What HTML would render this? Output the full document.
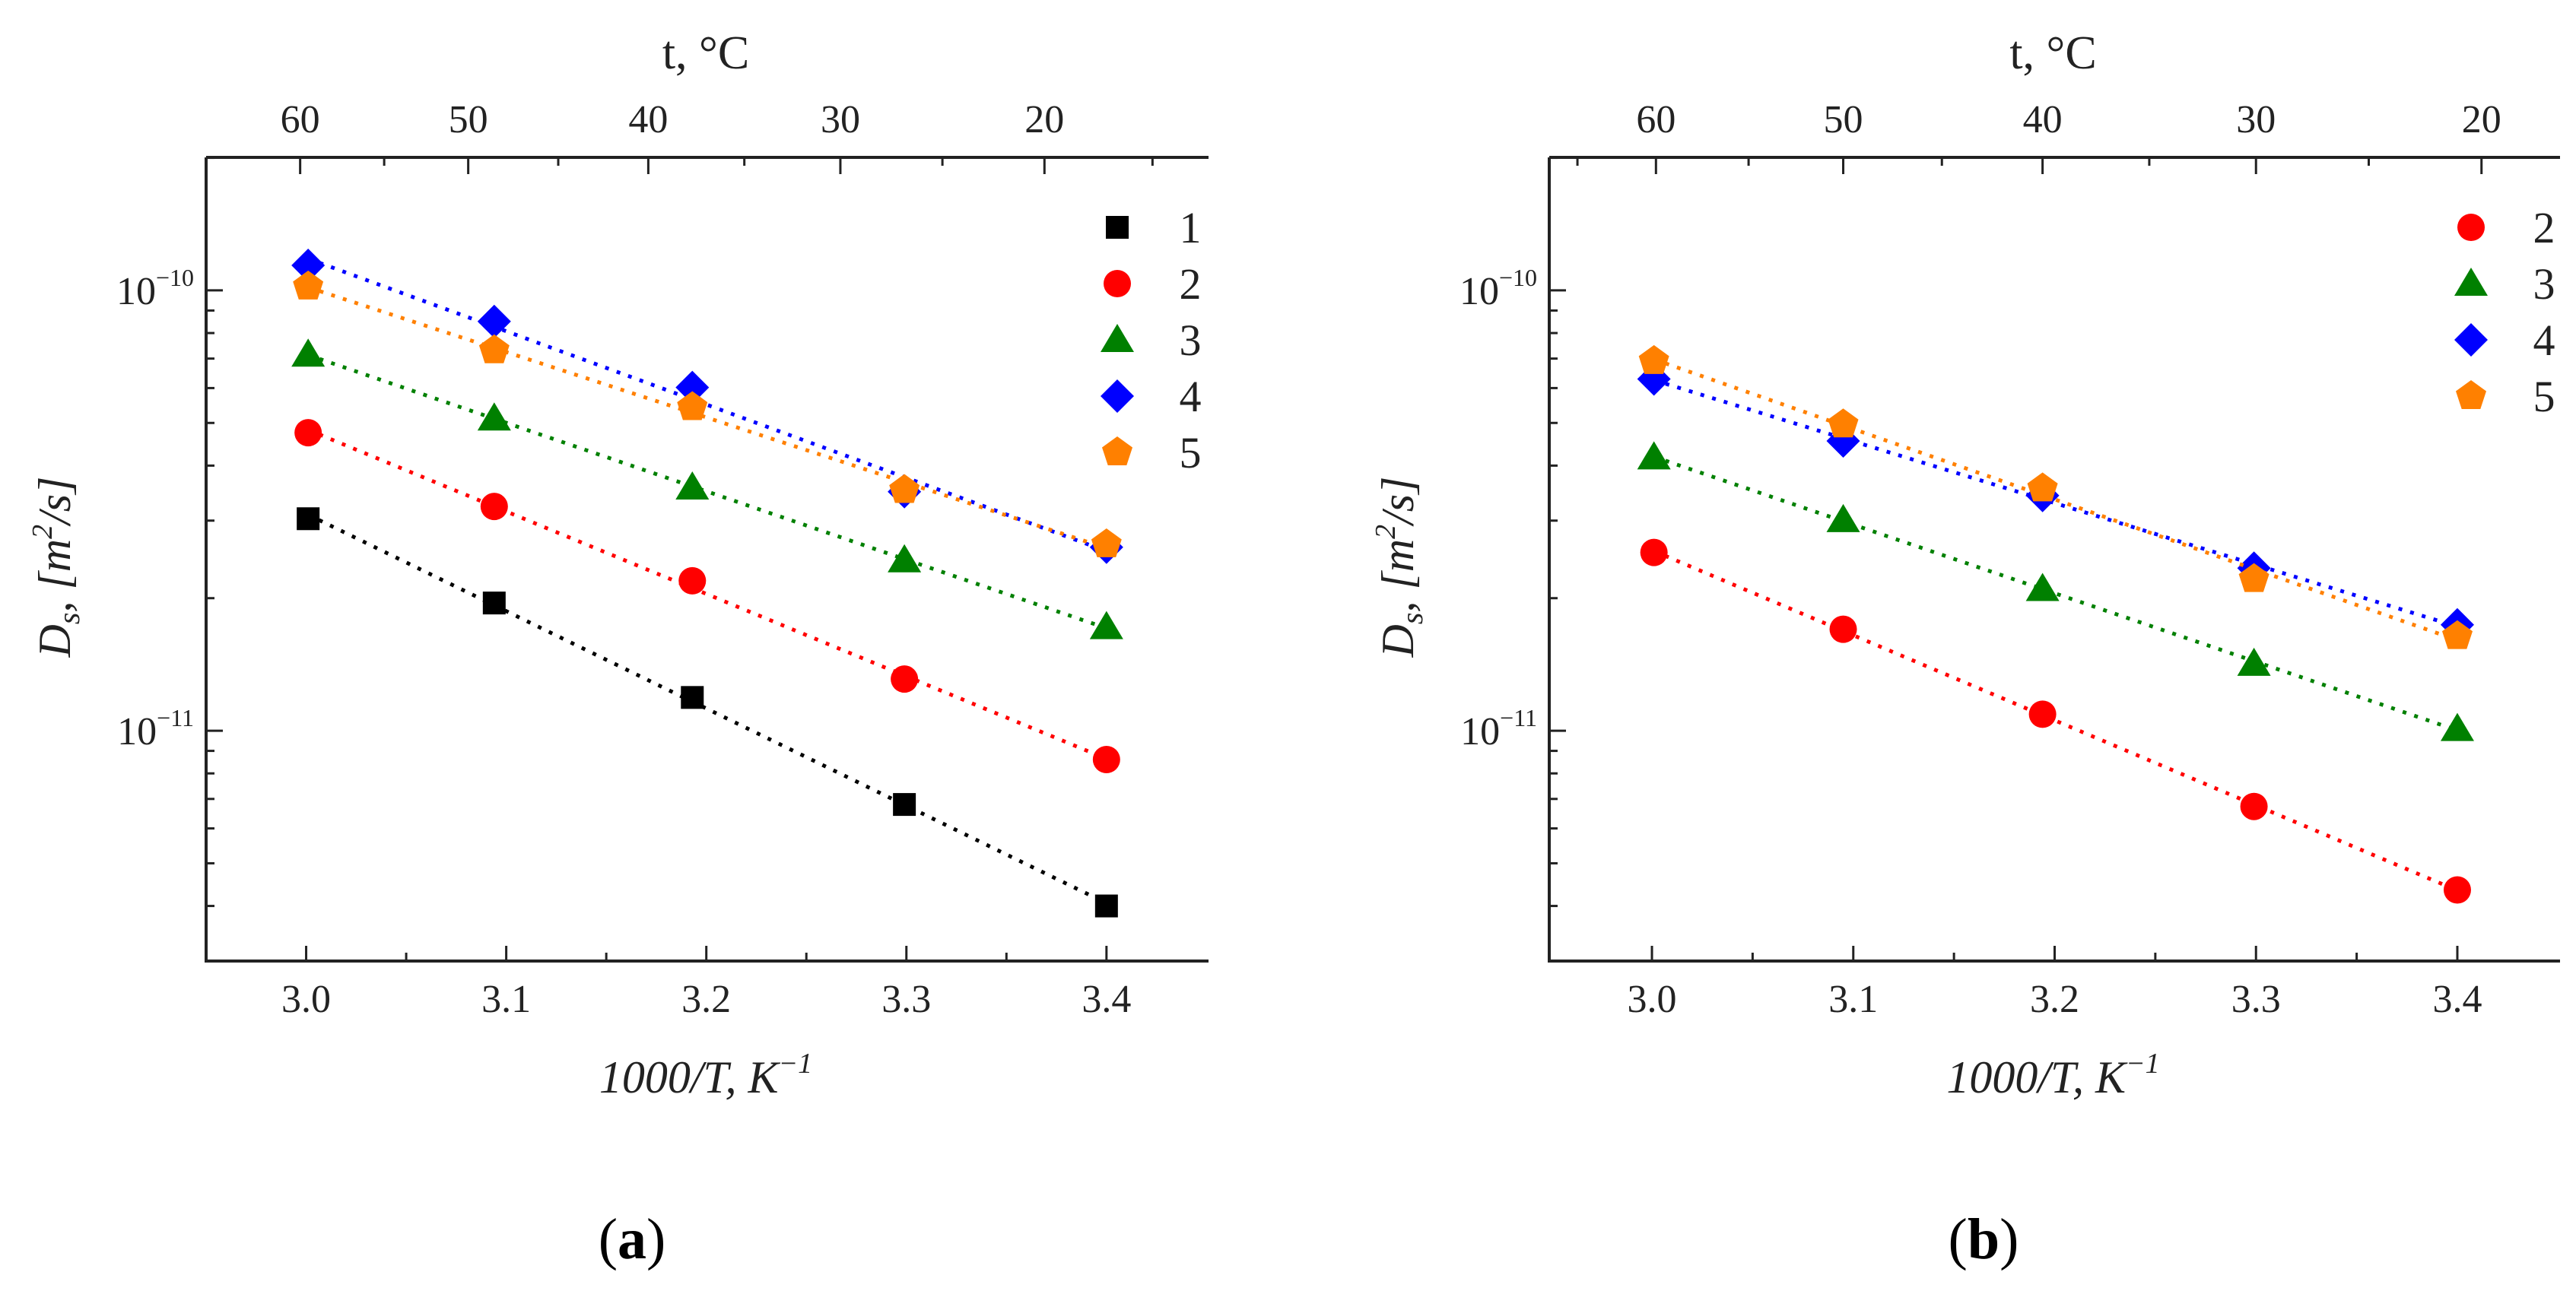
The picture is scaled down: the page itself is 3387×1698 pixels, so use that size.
<!DOCTYPE html>
<html><head><meta charset="utf-8">
<style>
html,body{margin:0;padding:0;background:#fff;}
svg{display:block;}
svg text{font-family:"Liberation Serif","DejaVu Serif",serif;}
</style></head>
<body>
<svg id="fig" width="3387" height="1698" viewBox="0 0 3387 1698" font-family="Liberation Serif, serif"></svg>
<script>
// ---- data ----
const xValsA = [3.001, 3.094, 3.193, 3.299, 3.4];
const xValsB = [3.001, 3.095, 3.194, 3.299, 3.4];
const seriesNamesA = ["1","2","3","4","5"];
const seriesNamesB = ["2","3","4","5"];
const a1 = [3.03e-11, 1.95e-11, 1.19e-11, 6.8e-12, 4.0e-12];
const a2 = [4.75e-11, 3.23e-11, 2.19e-11, 1.31e-11, 8.6e-12];
const a3 = [7.15e-11, 5.12e-11, 3.57e-11, 2.44e-11, 1.72e-11];
const a4 = [1.14e-10, 8.5e-11, 6.02e-11, 3.49e-11, 2.61e-11];
const a5 = [1.02e-10, 7.31e-11, 5.43e-11, 3.52e-11, 2.65e-11];
const b2 = [2.54e-11, 1.70e-11, 1.09e-11, 6.73e-12, 4.35e-12];
const b3 = [4.18e-11, 3.01e-11, 2.10e-11, 1.42e-11, 1.01e-11];
const b4 = [6.29e-11, 4.55e-11, 3.42e-11, 2.34e-11, 1.74e-11];
const b5 = [6.91e-11, 4.96e-11, 3.55e-11, 2.21e-11, 1.64e-11];
const xTicks = [3.0, 3.1, 3.2, 3.3, 3.4];
const xTickLabels = ["3.0","3.1","3.2","3.3","3.4"];
const tTickLabels = ["60","50","40","30","20"];
const tTickPosA = [2.997, 3.081, 3.171, 3.267, 3.369];
const tTickPosB = [3.002, 3.095, 3.194, 3.300, 3.412];
const tMinorPosA = [3.039, 3.126, 3.219, 3.318, 3.423];
const tMinorPosB = [2.963, 3.048, 3.144, 3.247, 3.356];

const NS = "http://www.w3.org/2000/svg";
const svg = document.getElementById("fig");
function el(tag, attrs, parent, text){
  const e = document.createElementNS(NS, tag);
  for (const k in attrs) e.setAttribute(k, attrs[k]);
  if (tag === "text") e.setAttribute("font-family", "Liberation Serif, DejaVu Serif, serif");
  if (text !== undefined) e.textContent = text;
  (parent||svg).appendChild(e);
  return e;
}
const styles = {
  "1": {color:"#000000", shape:"square"},
  "2": {color:"#ff0000", shape:"circle"},
  "3": {color:"#008000", shape:"triangle"},
  "4": {color:"#0000ff", shape:"diamond"},
  "5": {color:"#ff8000", shape:"pentagon"}
};
function marker(g, shape, cx, cy, color){
  let m;
  if (shape==="square") m = el("rect",{x:cx-15,y:cy-15,width:30,height:30,fill:color},g);
  else if (shape==="circle") m = el("circle",{cx:cx,cy:cy,r:18,fill:color},g);
  else if (shape==="triangle") m = el("polygon",{points:`${cx},${cy-21} ${cx+22},${cy+16} ${cx-22},${cy+16}`,fill:color},g);
  else if (shape==="diamond") m = el("polygon",{points:`${cx},${cy-22} ${cx+22},${cy} ${cx},${cy+22} ${cx-22},${cy}`,fill:color},g);
  else {
    let pts=[]; for(let i=0;i<5;i++){const a=-Math.PI/2+i*2*Math.PI/5; pts.push((cx+21*Math.cos(a)).toFixed(1)+","+(cy+21*Math.sin(a)).toFixed(1));}
    m = el("polygon",{points:pts.join(" "),fill:color},g);
  }
  return m;
}

function panel(cfg){
  const {id, L, R, T, B, xMin, xMax, lMin, lMax, xVals, series, names, tPos, tMinor, legX, legLabX, legY0, legDY, yLabX, caption, capX} = cfg;
  const g = el("g",{});
  
  
  const sx = v => L + (v - xMin)/(xMax - xMin)*(R - L);
  const sy = v => B - (Math.log10(v) - lMin)/(lMax - lMin)*(B - T);
  const frame = el("path",{d:`M${L},${T} L${R},${T} M${L},${T} L${L},${B} L${R},${B}`,stroke:"#222",fill:"none","stroke-width":4},g);
  
  
  xTicks.forEach((v,i)=>{
    const x = sx(v);
    el("line",{x1:x,y1:B,x2:x,y2:B-20,stroke:"#222","stroke-width":3},g);
    const t = el("text",{x:x,y:1331,"font-size":52,"text-anchor":"middle",fill:"#222"},g,xTickLabels[i]);
    
    
    if (i<xTicks.length-1){ const xm=sx(v+0.05); el("line",{x1:xm,y1:B,x2:xm,y2:B-11,stroke:"#222","stroke-width":3},g); }
  });
  tPos.forEach((v,i)=>{
    const x = sx(v);
    el("line",{x1:x,y1:T,x2:x,y2:T+22,stroke:"#222","stroke-width":3},g);
    const t = el("text",{x:x,y:174,"font-size":52,"text-anchor":"middle",fill:"#222"},g,tTickLabels[i]);
    
    
  });
  tMinor.forEach(v=>{ const x=sx(v); if(x>L+5&&x<R-5) el("line",{x1:x,y1:T,x2:x,y2:T+11,stroke:"#222","stroke-width":3},g); });
  for (let d=-12; d<=-10; d++){
    for (let k=1;k<=9;k++){
      const v = k*Math.pow(10,d); const lv=Math.log10(v);
      if (lv<lMin||lv>lMax) continue;
      const y = sy(v);
      el("line",{x1:L,y1:y,x2:L+(k===1?22:11),y2:y,stroke:"#222","stroke-width":3},g);
      if (k===1){
        const t = el("text",{x:L-16,y:y+18,"font-size":52,"text-anchor":"end",fill:"#222"},g);
        
        
        el("tspan",{},t,"10");
        el("tspan",{"font-size":32,dy:-24},t,"\u2212"+(-d));
      }
    }
  }
  names.forEach((n,si)=>{
    const vals = series[si]; const st = styles[n];
    const sg = el("g",{},g);
    
    
    const N=xVals.length; let sxv=0,syv=0,sxx=0,sxy=0;
    for(let i=0;i<N;i++){const X=xVals[i],Y=Math.log10(vals[i]);sxv+=X;syv+=Y;sxx+=X*X;sxy+=X*Y;}
    const slope=(N*sxy-sxv*syv)/(N*sxx-sxv*sxv); const ic=(syv-slope*sxv)/N;
    const x0=xVals[0], x1=xVals[N-1];
    const fl = el("line",{x1:sx(x0),y1:sy(Math.pow(10,ic+slope*x0)),x2:sx(x1),y2:sy(Math.pow(10,ic+slope*x1)),stroke:st.color,"stroke-width":5,"stroke-dasharray":"5 11"},sg);
    
    
    vals.forEach((v,i)=>{
      const m = marker(sg, st.shape, sx(xVals[i]), sy(v), st.color);
      
      
    });
    const ly = legY0 + si*legDY;
    const lm = marker(g, st.shape, legX, ly, st.color);
    
    
    const lt = el("text",{x:legLabX,y:ly+20,"font-size":58,"text-anchor":"middle",fill:"#222"},g,n);
    
    
  });
  const tt = el("text",{x:(L+R)/2-2,y:90,"font-size":62,"text-anchor":"middle",fill:"#222"},g,"t, \u00B0C");
  
  
  const xt = el("text",{x:(L+R)/2-2,y:1437,"font-size":60,"font-style":"italic","text-anchor":"middle",fill:"#222"},g);
  
  
  el("tspan",{},xt,"1000/T, K");
  el("tspan",{"font-size":38,dy:-26},xt,"\u22121");
  const yt = el("text",{x:0,y:0,"font-size":60,"font-style":"italic","text-anchor":"middle",fill:"#222",transform:`translate(${yLabX},${(T+B)/2+10}) rotate(-90)`},g);
  
  
  el("tspan",{},yt,"D");
  el("tspan",{"font-size":40,dy:12},yt,"s");
  el("tspan",{dy:-12},yt,", [m");
  el("tspan",{"font-size":38,dy:-24},yt,"2");
  el("tspan",{dy:24},yt,"/s]");
  const cap = el("text",{x:capX,y:1655,"font-size":76,"text-anchor":"middle",fill:"#000"},g);
  
  
  el("tspan",{},cap,"(");
  el("tspan",{"font-weight":"bold"},cap,caption);
  el("tspan",{},cap,")");
}

panel({id:"panel-a", L:271, R:1589, T:207, B:1264, xMin:2.95, xMax:3.451, lMin:-11.523, lMax:-9.698,
  xVals:xValsA, series:[a1,a2,a3,a4,a5], names:seriesNamesA, tPos:tTickPosA, tMinor:tMinorPosA,
  legX:1469, legLabX:1565, legY0:299, legDY:74, yLabX:92, caption:"a", capX:831});
panel({id:"panel-b", L:2037, R:3366, T:207, B:1264, xMin:2.949, xMax:3.451, lMin:-11.523, lMax:-9.698,
  xVals:xValsB, series:[b2,b3,b4,b5], names:seriesNamesB, tPos:tTickPosB, tMinor:tMinorPosB,
  legX:3249, legLabX:3345, legY0:299, legDY:74, yLabX:1858, caption:"b", capX:2608});
</script>
</body></html>
